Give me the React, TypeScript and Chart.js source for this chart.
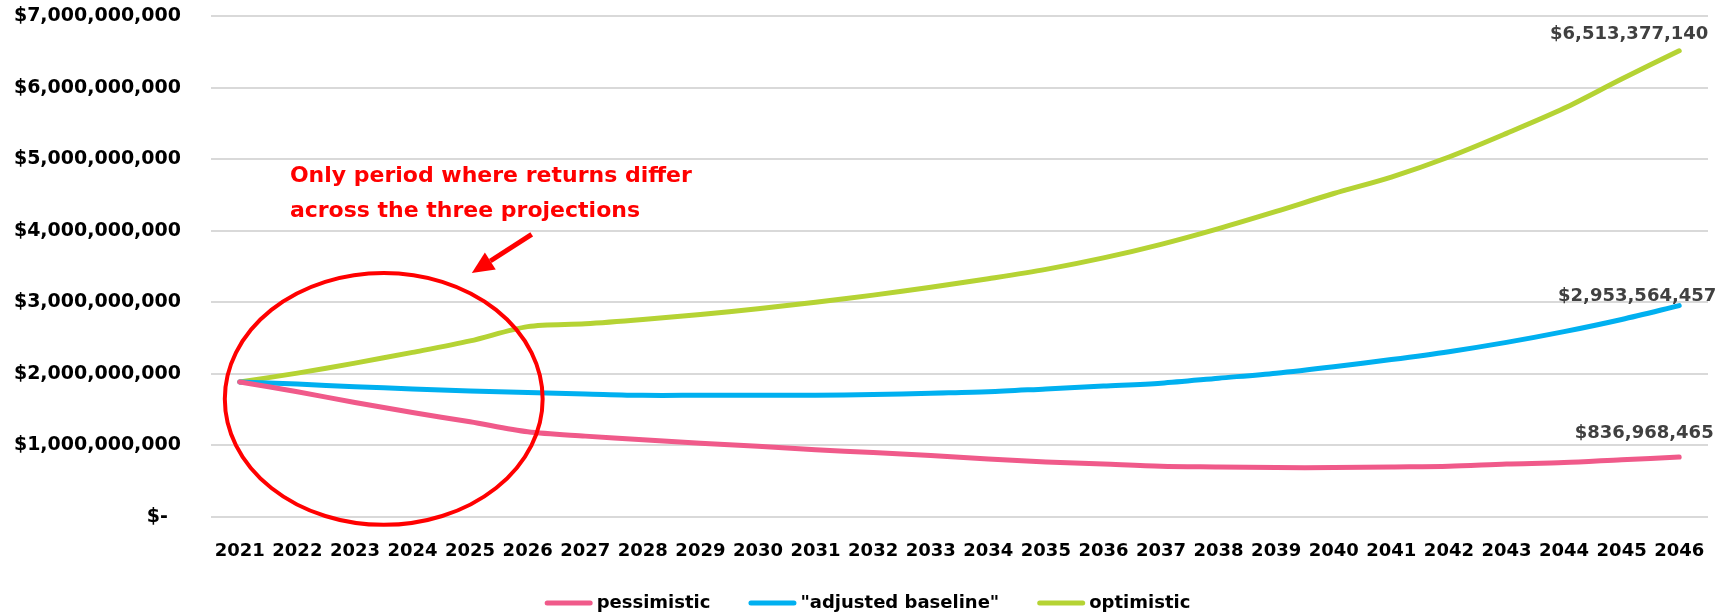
import React, { useEffect, useRef } from "react";
import { Chart, registerables } from "chart.js";

Chart.register(...registerables);

const years = [
  "2021", "2022", "2023", "2024", "2025", "2026", "2027", "2028", "2029", "2030",
  "2031", "2032", "2033", "2034", "2035", "2036", "2037", "2038", "2039", "2040",
  "2041", "2042", "2043", "2044", "2045", "2046",
];

const pessimistic = [
  1887000000, 1750000000, 1600000000, 1460000000, 1330000000, 1190000000, 1130000000,
  1080000000, 1030000000, 990000000, 940000000, 900000000, 860000000, 810000000,
  770000000, 740000000, 710000000, 700000000, 690000000, 690000000, 700000000,
  710000000, 740000000, 760000000, 800000000, 836968465,
];

const adjustedBaseline = [
  1887000000, 1857000000, 1820000000, 1790000000, 1760000000, 1740000000, 1720000000,
  1700000000, 1700000000, 1700000000, 1700000000, 1710000000, 1730000000, 1750000000,
  1790000000, 1830000000, 1870000000, 1940000000, 2010000000, 2100000000, 2200000000,
  2310000000, 2440000000, 2590000000, 2760000000, 2953564457,
];

const optimistic = [
  1887000000, 2010000000, 2150000000, 2300000000, 2460000000, 2660000000, 2700000000,
  2760000000, 2830000000, 2910000000, 3000000000, 3100000000, 3210000000, 3330000000,
  3460000000, 3620000000, 3810000000, 4030000000, 4270000000, 4520000000, 4750000000,
  5030000000, 5360000000, 5710000000, 6120000000, 6513377140,
];

const seriesNames = ["pessimistic", "\"adjusted baseline\"", "optimistic"];
const seriesColors = ["#F05A8A", "#00B0F0", "#B5D334"];
const yTicks = [0, 1000000000, 2000000000, 3000000000, 4000000000, 5000000000, 6000000000, 7000000000];

const annotationLines = ["Only period where returns differ", "across the three projections"];

// annotation anchors (category index, value)
const noteAnchor = { index: 0.87, value1: 4760000000, value2: 4270000000 };
const arrowAnchor = { fromIndex: 5.07, fromValue: 3950000000, toIndex: 4.03, toValue: 3410000000 };
const ellipseAnchor = { index: 2.5, value: 1650000000, rIndex: 2.76, rValue: 1760000000 };
// end-label offsets (px) relative to the last point
const endLabelOffsets = [
  { dx: -35, dy: -24 },
  { dx: -42, dy: -9 },
  { dx: -50, dy: -17 },
];

const FONT = "'DejaVu Sans', sans-serif";

const fmt = (v: number) => "$" + Math.round(v).toLocaleString("en-US");

const annotationPlugin = {
  id: "annot",
  afterDatasetsDraw(chart: any) {
    const { ctx } = chart;
    const x = chart.scales.x;
    const y = chart.scales.y;
    ctx.save();
    // ellipse
    const cx = x.getPixelForValue(ellipseAnchor.index);
    const cy = y.getPixelForValue(ellipseAnchor.value);
    const step = x.getPixelForValue(1) - x.getPixelForValue(0);
    const rx = step * ellipseAnchor.rIndex;
    const ry = y.getPixelForValue(0) - y.getPixelForValue(ellipseAnchor.rValue);
    ctx.beginPath();
    ctx.ellipse(cx, cy, rx, ry, 0, 0, Math.PI * 2);
    ctx.strokeStyle = "#FF0000";
    ctx.lineWidth = 4;
    ctx.stroke();

    // arrow
    const x1 = x.getPixelForValue(arrowAnchor.fromIndex);
    const y1 = y.getPixelForValue(arrowAnchor.fromValue);
    const x2 = x.getPixelForValue(arrowAnchor.toIndex);
    const y2 = y.getPixelForValue(arrowAnchor.toValue);
    const ang = Math.atan2(y2 - y1, x2 - x1);
    const headLen = 22;
    const headW = 10;
    const bx = x2 - headLen * Math.cos(ang);
    const by = y2 - headLen * Math.sin(ang);
    ctx.beginPath();
    ctx.moveTo(x1, y1);
    ctx.lineTo(bx, by);
    ctx.lineWidth = 5;
    ctx.stroke();
    ctx.beginPath();
    ctx.moveTo(x2, y2);
    ctx.lineTo(bx + headW * Math.sin(ang), by - headW * Math.cos(ang));
    ctx.lineTo(bx - headW * Math.sin(ang), by + headW * Math.cos(ang));
    ctx.closePath();
    ctx.fillStyle = "#FF0000";
    ctx.fill();

    // text
    ctx.font = "bold 22px " + FONT;
    ctx.fillStyle = "#FF0000";
    ctx.textAlign = "left";
    ctx.textBaseline = "middle";
    const tx = x.getPixelForValue(noteAnchor.index);
    ctx.fillText(annotationLines[0], tx, y.getPixelForValue(noteAnchor.value1));
    ctx.fillText(annotationLines[1], tx, y.getPixelForValue(noteAnchor.value2));

    // end labels
    ctx.font = "bold 18px " + FONT;
    ctx.fillStyle = "#404040";
    ctx.textAlign = "center";
    chart.data.datasets.forEach((ds: any, i: number) => {
      const meta = chart.getDatasetMeta(i);
      const pt = meta.data[meta.data.length - 1];
      const v = ds.data[ds.data.length - 1];
      const off = endLabelOffsets[i];
      ctx.fillText(fmt(v), pt.x + off.dx, pt.y + off.dy);
    });
    ctx.restore();
  },
};

// legend drawn at the bottom of the canvas, centred
const legendPlugin = {
  id: "bottomLegend",
  afterDraw(chart: any) {
    const { ctx, width, height } = chart;
    const swatch = 48;
    const gapText = 4;
    const gapItem = 38;
    ctx.save();
    ctx.font = "bold 18px " + FONT;
    ctx.textBaseline = "middle";
    ctx.textAlign = "left";
    const items = chart.data.datasets.map((ds: any) => ({
      text: ds.label,
      color: ds.borderColor,
      w: swatch + gapText + ctx.measureText(ds.label).width,
    }));
    const total = items.reduce((s: number, it: any) => s + it.w, 0) + gapItem * (items.length - 1);
    let xx = (width - total) / 2;
    const yy = height - 13;
    items.forEach((it: any) => {
      ctx.beginPath();
      ctx.moveTo(xx + 2.5, yy);
      ctx.lineTo(xx + swatch - 2.5, yy);
      ctx.lineWidth = 5;
      ctx.lineCap = "round";
      ctx.strokeStyle = it.color;
      ctx.stroke();
      ctx.fillStyle = "#000";
      ctx.fillText(it.text, xx + swatch + gapText, yy);
      xx += it.w + gapItem;
    });
    ctx.restore();
  },
};

export default function App() {
  const ref = useRef<HTMLCanvasElement>(null);
  useEffect(() => {
    if (!ref.current) return;
    const data = [pessimistic, adjustedBaseline, optimistic];
    const chart = new Chart(ref.current, {
      type: "line",
      data: {
        labels: years,
        datasets: data.map((d, i) => ({
          label: seriesNames[i],
          data: d,
          borderColor: seriesColors[i],
          backgroundColor: seriesColors[i],
          borderWidth: 5,
          pointRadius: 0,
          tension: 0.3,
          borderCapStyle: "round" as const,
          fill: false,
        })),
      },
      options: {
        animation: false,
        responsive: false,
        devicePixelRatio: 1,
        layout: { padding: { top: 16, right: 27, bottom: 52, left: 0 } },
        plugins: {
          tooltip: { enabled: false },
          legend: { display: false },
        },
        scales: {
          x: {
            type: "category",
            offset: true,
            grid: { display: false, drawTicks: false },
            border: { display: false },
            ticks: {
              autoSkip: false,
              maxRotation: 0,
              minRotation: 0,
              padding: 24,
              color: "#000",
              font: { family: FONT, size: 18, weight: "bold" },
            },
            afterFit: (s: any) => {
              s.height = 47;
            },
          },
          y: {
            min: 0,
            max: 7000000000,
            afterBuildTicks: (s: any) => {
              s.ticks = yTicks.map((v) => ({ value: v }));
            },
            grid: { color: "#D9D9D9", lineWidth: 2, drawTicks: false },
            border: { display: false },
            ticks: {
              padding: 30,
              color: "#000",
              font: { family: FONT, size: 19, weight: "bold" },
              callback: (v: any) => (Number(v) === 0 ? "$-  " : fmt(Number(v))),
            },
            afterFit: (s: any) => {
              s.width = 211;
              s.paddingTop = 0;
              s.paddingBottom = 0;
            },
          },
        },
      },
      plugins: [annotationPlugin, legendPlugin],
    });
    return () => chart.destroy();
  }, []);
  return (
    <div style={{ position: "fixed", left: 0, top: 0, width: 1735, height: 616, background: "#fff" }}>
      <canvas ref={ref} width={1735} height={616} style={{ width: 1735, height: 616 }} />
    </div>
  );
}
